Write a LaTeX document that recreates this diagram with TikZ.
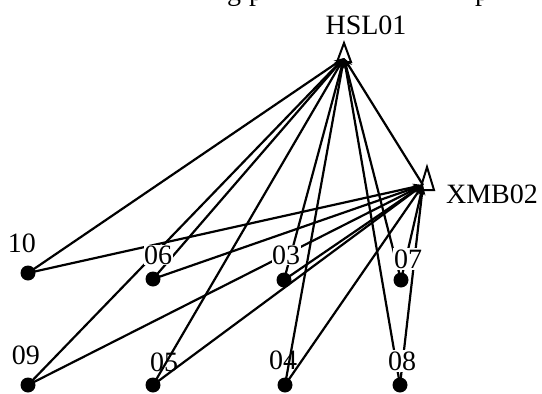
\documentclass[tikz,border=0pt]{standalone}
\usepackage{fontspec}
\setmainfont{Liberation Serif}
\usetikzlibrary{arrows.meta}
\begin{document}
\begin{tikzpicture}[x=1pt,y=-1pt,
  lbl/.style={font=\fontsize{28}{28}\selectfont, inner sep=0.5pt},
  wlbl/.style={lbl, fill=white},
  dotnode/.style={circle, fill=black, minimum size=15pt, inner sep=0pt},
  edge/.style={line width=2.2pt, -{Stealth[length=10pt,width=7pt]}},
  hub/.style={line width=2pt, draw=black}]
\useasboundingbox (0,0) rectangle (542,394);
\begin{scope}
\clip (0,0) rectangle (542,394);
\node[lbl, anchor=base west, inner sep=0pt] (capA) at (227,0) {g};
\node[lbl, anchor=base west, inner sep=0pt] (capB) at (249,0) {p};
\node[lbl, anchor=base west, inner sep=0pt] (capC) at (475,0) {p};
\end{scope}
% hubs
\coordinate (hA) at (344,58);
\coordinate (hB) at (423,185);
% dots
\coordinate (p10) at (28,273);
\coordinate (p06) at (153,279);
\coordinate (p03) at (284,280);
\coordinate (p07) at (401,280);
\coordinate (p09) at (28,385);
\coordinate (p05) at (153,385);
\coordinate (p04) at (285,385);
\coordinate (p08) at (400,385);
% hub triangles
\draw[hub] (337,62) -- (344,43) -- (351,62) -- cycle;
\draw[hub] (420,190) -- (427,167) -- (434,190) -- cycle;
% edges
\foreach \n in {10,06,03,07,09,05,04,08} {
  \draw[edge] (p\n) -- (hA);
  \draw[edge] (p\n) -- (hB);
}
\draw[edge] (hB) -- (hA);
% labels
\node[lbl] (lA) at (366,25) {HSL01};
\node[lbl] (lB) at (492,194) {XMB02};
\node[wlbl] (l10) at (22,243) {10};
\node[wlbl] (l06) at (158,255) {06};
\node[wlbl] (l03) at (286,255) {03};
\node[wlbl, inner sep=1.5pt] (l07) at (408,259) {07};
\node[wlbl] (l09) at (26,355) {09};
\node[lbl] (l05) at (164,362) {05};
\node[lbl] (l04) at (283,360) {04};
\node[wlbl, inner sep=1.5pt] (l08) at (402,361) {08};
% dot markers
\foreach \n in {10,06,03,07,09,05,04,08} {
  \node[dotnode] (d\n) at (p\n) {};
}
\end{tikzpicture}
\end{document}
